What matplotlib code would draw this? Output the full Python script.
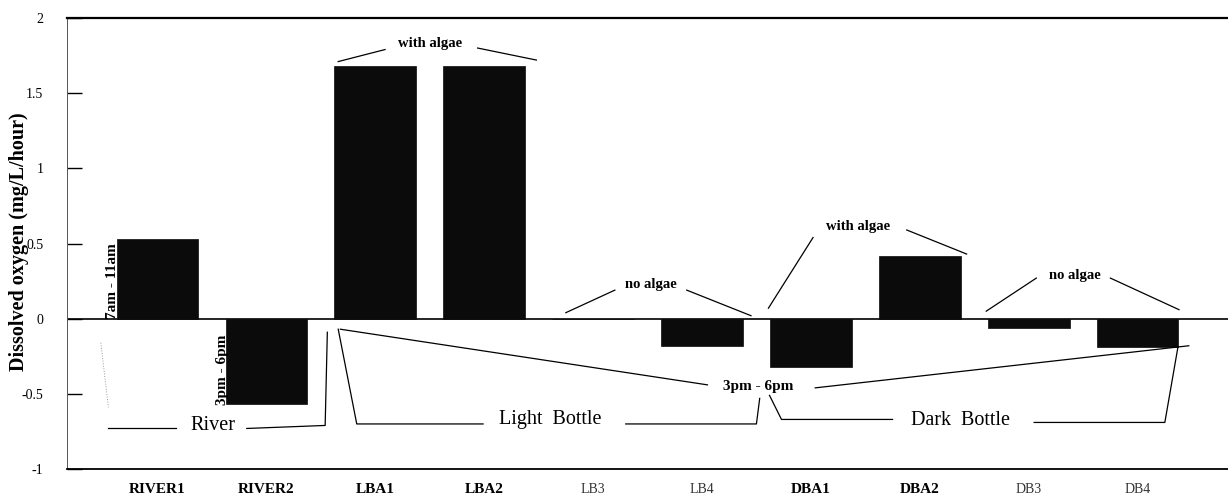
import matplotlib.pyplot as plt

# data
categories = ['RIVER1', 'RIVER2', 'LBA1', 'LBA2', 'LB3', 'LB4', 'DBA1', 'DBA2', 'DB3', 'DB4']
values = [0.53, -0.57, 1.68, 1.68, 0.0, -0.18, -0.32, 0.42, -0.06, -0.19]
bold_labels = ['RIVER1', 'RIVER2', 'LBA1', 'LBA2', 'DBA1', 'DBA2']
yticks = [-1, -0.5, 0, 0.5, 1, 1.5, 2]
ytick_labels = ['-1', '-0.5', '0', '0.5', '1', '1.5', '2']

plt.rcParams['font.family'] = ['Liberation Serif', 'DejaVu Serif']

fig = plt.figure(figsize=(12.28, 4.99), dpi=100)
ax = fig.add_axes([0.0546, 0.060, 0.9454, 0.904])

x = list(range(len(categories)))
ax.bar(x, values, width=0.75, color='#0b0b0b', edgecolor='#0b0b0b', linewidth=0.5, zorder=3)
ax.axhline(0, color='black', linewidth=1.2, zorder=2)

ax.set_xlim(-0.83, 9.83)
ax.set_ylim(-1, 2)

ax.spines['right'].set_visible(False)
ax.spines['top'].set_linewidth(1.6)
ax.spines['bottom'].set_linewidth(1.3)
ax.spines['left'].set_linewidth(0.7)
ax.spines['left'].set_color('#555555')

ax.set_yticks(yticks)
ax.set_yticklabels(ytick_labels, fontsize=10)
ax.tick_params(axis='y', direction='in', length=11, width=1, pad=17)

ax.set_xticks(x)
ax.set_xticklabels(categories, fontsize=11)
ax.tick_params(axis='x', length=0, pad=10)
for lab in ax.get_xticklabels():
    if lab.get_text() in bold_labels:
        lab.set_fontweight('bold')
    else:
        lab.set_color('#333333')
        lab.set_fontsize(10)

ax.set_ylabel('Dissolved oxygen (mg/L/hour)', fontsize=14.5, fontweight='bold')
ax.yaxis.set_label_coords(-0.033, 0.505)

kw = dict(color='black', linewidth=0.9, zorder=4, clip_on=False)
small = dict(fontsize=10.5, fontweight='bold', ha='center', va='center')

# "with algae" over the light bottles
ax.text(2.50, 1.83, 'with algae', **small)
ax.plot([1.66, 2.09], [1.71, 1.79], **kw)
ax.plot([2.94, 3.48], [1.80, 1.72], **kw)

# "no algae" over LB3/LB4
ax.text(4.53, 0.23, 'no algae', **small)
ax.plot([3.75, 4.20], [0.04, 0.19], **kw)
ax.plot([4.86, 5.45], [0.19, 0.02], **kw)

# "with algae" over dark bottles
ax.text(6.43, 0.61, 'with algae', **small)
ax.plot([5.61, 6.02], [0.07, 0.54], **kw)
ax.plot([6.88, 7.43], [0.59, 0.43], **kw)

# "no algae" over DB3/DB4
ax.text(8.42, 0.29, 'no algae', **small)
ax.plot([7.61, 8.07], [0.05, 0.27], **kw)
ax.plot([8.75, 9.38], [0.27, 0.06], **kw)

# "3pm - 6pm" spanning the bottles
ax.text(5.52, -0.45, '3pm - 6pm', fontsize=11, fontweight='bold', ha='center', va='center')
ax.plot([1.68, 5.05], [-0.07, -0.44], **kw)
ax.plot([6.04, 9.47], [-0.46, -0.18], **kw)

# vertical time labels on river bars
ax.text(-0.41, 0.25, '7am - 11am', fontsize=11, fontweight='bold', rotation=90,
        ha='center', va='center', zorder=5)
ax.text(0.60, -0.34, '3pm - 6pm', fontsize=11, fontweight='bold', rotation=90,
        ha='center', va='center', zorder=5)

# group brackets
ax.text(0.51, -0.71, 'River', fontsize=14.5, ha='center', va='center')
ax.plot([-0.45, 0.17], [-0.73, -0.73], **kw)
ax.plot([0.82, 1.54, 1.56], [-0.73, -0.71, -0.09], **kw)
ax.plot([-0.52, -0.45], [-0.16, -0.59], color='#999999', linewidth=0.7, linestyle=':')

ax.text(3.61, -0.67, 'Light  Bottle', fontsize=14.5, ha='center', va='center')
ax.plot([1.66, 1.83, 2.99], [-0.07, -0.70, -0.70], **kw)
ax.plot([4.30, 5.50, 5.53], [-0.70, -0.70, -0.53], **kw)

ax.text(7.37, -0.68, 'Dark  Bottle', fontsize=14.5, ha='center', va='center')
ax.plot([5.62, 5.73, 6.75], [-0.51, -0.67, -0.67], **kw)
ax.plot([8.05, 9.25, 9.37], [-0.69, -0.69, -0.19], **kw)

fig.savefig('out.png', dpi=100)
